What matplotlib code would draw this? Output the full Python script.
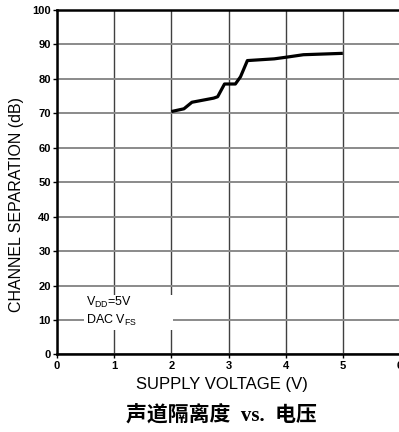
import matplotlib.pyplot as plt
from matplotlib.patches import Rectangle

# channel separation vs. supply voltage
supply_v = [2.0, 2.22, 2.36, 2.74, 2.81, 2.93, 3.12, 3.21, 3.33, 3.80, 4.02, 4.31, 5.0]
separation_db = [70.5, 71.3, 73.2, 74.4, 74.8, 78.5, 78.5, 80.6, 85.3, 85.8, 86.3, 87.0, 87.4]

x_ticks = [0, 1, 2, 3, 4, 5, 6]
y_ticks = [0, 10, 20, 30, 40, 50, 60, 70, 80, 90, 100]

plt.rcParams['mathtext.fontset'] = 'custom'
plt.rcParams['mathtext.rm'] = 'Liberation Sans'
plt.rcParams['font.family'] = ['Liberation Sans', 'DejaVu Sans']

fig = plt.figure(figsize=(3.99, 4.32), dpi=100)
ax = fig.add_axes([0.1429, 0.1796, 0.8596, 0.7974])

ax.plot(supply_v, separation_db, color='black', linewidth=2.3, zorder=3,
        solid_joinstyle='round', solid_capstyle='butt')

ax.set_xlim(0, 6)
ax.set_ylim(0, 100)
ax.set_xticks(x_ticks)
ax.set_yticks(y_ticks)
ax.set_xticklabels([str(v) for v in x_ticks], fontweight='bold', fontsize=8)
ax.set_yticklabels([str(v) for v in y_ticks], fontweight='bold', fontsize=8)
ax.tick_params(axis='both', direction='out', length=3, width=1, pad=1.5)

ax.set_axisbelow(True)
ax.grid(axis='y', color='#8a8a8a', linewidth=1.4)
ax.grid(axis='x', color='#404040', linewidth=1.0)

for side in ['top', 'left', 'bottom']:
    ax.spines[side].set_linewidth(1.8)
ax.spines['right'].set_visible(False)

# white panel behind the condition note
ax.add_patch(Rectangle((0.47, 7.1), 1.56, 10.2, facecolor='white',
                       edgecolor='none', zorder=1))
ax.text(0.51, 15.0, r'V$_{\mathrm{DD}}$=5V', fontsize=9, va='center', ha='left', zorder=2)
ax.text(0.51, 10.0, r'DAC V$_{\mathrm{FS}}$', fontsize=9, va='center', ha='left', zorder=2)

fig.text(222 / 399, 1 - 385 / 432, 'SUPPLY VOLTAGE (V)', fontsize=12,
         ha='center', va='center')
fig.text(17 / 399, 1 - 204 / 432, 'CHANNEL SEPARATION (dB)', fontsize=11.5,
         ha='center', va='center', rotation=90)

fig.text(221 / 399, 1 - 416 / 432, '声道隔离度  vs.  电压', ha='center', va='center',
         fontsize=15, fontweight='bold',
         family=['Liberation Serif', 'Noto Sans CJK SC'])

fig.savefig('out.png', dpi=100)
